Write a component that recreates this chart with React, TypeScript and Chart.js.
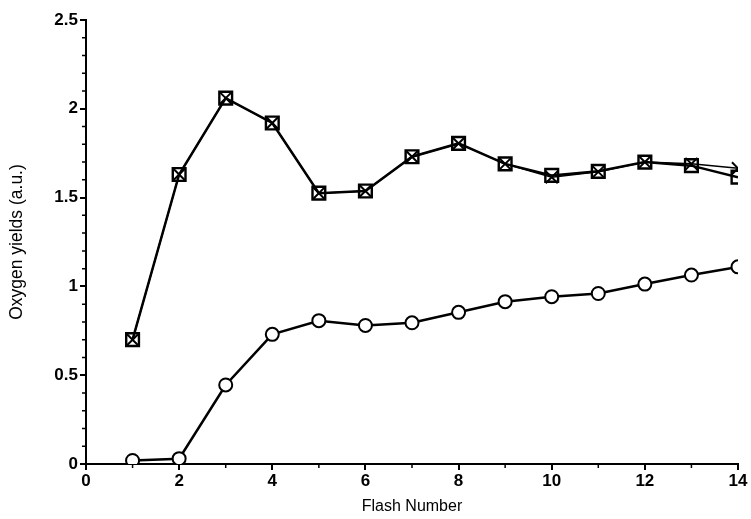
import React, { useEffect, useRef } from "react";
import { Chart, registerables } from "chart.js";

Chart.register(...registerables);

const flashNumbers = [1, 2, 3, 4, 5, 6, 7, 8, 9, 10, 11, 12, 13, 14];
const squareYields = [0.7, 1.63, 2.06, 1.92, 1.525, 1.537, 1.73, 1.805, 1.69, 1.625, 1.648, 1.7, 1.68, 1.615];
const crossYields = [0.7, 1.63, 2.06, 1.92, 1.525, 1.537, 1.73, 1.805, 1.69, 1.615, 1.645, 1.7, 1.69, 1.665];
const circleYields = [0.02, 0.03, 0.445, 0.73, 0.807, 0.78, 0.795, 0.854, 0.914, 0.942, 0.96, 1.013, 1.064, 1.11];
const xTicks = [0, 2, 4, 6, 8, 10, 12, 14];
const yTicks = [0, 0.5, 1, 1.5, 2, 2.5];
const xMinorTicks = [1, 3, 5, 7, 9, 11, 13];
const yMinorTicks = [0.1, 0.2, 0.3, 0.4, 0.6, 0.7, 0.8, 0.9, 1.1, 1.2, 1.3, 1.4, 1.6, 1.7, 1.8, 1.9, 2.1, 2.2, 2.3, 2.4];

const FONT = "'Liberation Sans', Arial, sans-serif";

const minorTickPlugin = {
  id: "minorTicks",
  afterDraw(chart: any) {
    const ctx = chart.ctx;
    const xs = chart.scales.x;
    const ys = chart.scales.y;
    ctx.save();
    ctx.strokeStyle = "#000";
    ctx.lineWidth = 1.5;
    ctx.beginPath();
    for (const v of xMinorTicks) {
      const px = xs.getPixelForValue(v);
      ctx.moveTo(px, xs.top);
      ctx.lineTo(px, xs.top + 4);
    }
    for (const v of yMinorTicks) {
      const py = ys.getPixelForValue(v);
      ctx.moveTo(ys.right, py);
      ctx.lineTo(ys.right - 4, py);
    }
    ctx.stroke();
    ctx.restore();
  },
};

export default function App() {
  const ref = useRef<HTMLCanvasElement | null>(null);
  useEffect(() => {
    document.body.style.margin = "0";
    const canvas = ref.current!;
    const mk = (vals: number[]) => flashNumbers.map((x, i) => ({ x, y: vals[i] }));
    const chart = new Chart(canvas, {
      type: "line",
      data: {
        datasets: [
          {
            label: "circles",
            data: mk(circleYields),
            borderColor: "#000",
            borderWidth: 2.5,
            pointStyle: "circle",
            pointRadius: 6.5,
            pointBorderWidth: 2,
            pointBackgroundColor: "#fff",
            pointBorderColor: "#000",
          },
          {
            label: "crosses",
            data: mk(crossYields),
            borderColor: "#000",
            borderWidth: 1.5,
            pointStyle: "crossRot",
            pointRadius: 8.5,
            pointBorderWidth: 2,
            pointBorderColor: "#000",
          },
          {
            label: "squares",
            data: mk(squareYields),
            borderColor: "#000",
            borderWidth: 2.5,
            pointStyle: "rect",
            pointRadius: 9,
            pointBorderWidth: 2.4,
            pointBackgroundColor: "rgba(255,255,255,0)",
            pointBorderColor: "#000",
          },
        ],
      },
      options: {
        animation: false,
        responsive: false,
        maintainAspectRatio: false,
        layout: { padding: { top: 20, right: 13, left: 0, bottom: 0 } },
        plugins: { legend: { display: false }, tooltip: { enabled: false } },
        scales: {
          x: {
            type: "linear",
            min: 0,
            max: 14,
            afterBuildTicks: (s: any) => {
              s.ticks = xTicks.map((v) => ({ value: v }));
            },
            afterFit: (s: any) => {
              s.height = 55;
            },
            border: { color: "#000", width: 2 },
            grid: { drawOnChartArea: false, drawTicks: true, tickLength: 6, color: "#000", lineWidth: 2 },
            ticks: {
              color: "#000",
              font: { family: FONT, size: 17, weight: "bold" },
              padding: 1,
              maxRotation: 0,
              callback: (v: any) => String(v),
            },
            title: { display: true, text: "Flash Number", color: "#000", font: { family: FONT, size: 16 }, padding: { top: 0, bottom: 3 } },
          },
          y: {
            type: "linear",
            min: 0,
            max: 2.5,
            afterBuildTicks: (s: any) => {
              s.ticks = yTicks.map((v) => ({ value: v }));
            },
            afterFit: (s: any) => {
              s.width = 86;
            },
            border: { color: "#000", width: 2 },
            grid: { drawOnChartArea: false, drawTicks: true, tickLength: 6, color: "#000", lineWidth: 2 },
            ticks: {
              color: "#000",
              font: { family: FONT, size: 17, weight: "bold" },
              padding: 2,
              callback: (v: any) => String(v),
            },
            title: { display: true, text: "Oxygen yields (a.u.)", color: "#000", font: { family: FONT, size: 17.5 }, padding: { top: 7, bottom: 6 } },
          },
        },
      },
      plugins: [minorTickPlugin],
    });
    return () => chart.destroy();
  }, []);
  return <canvas ref={ref} width={751} height={519} style={{ display: "block", width: 751, height: 519 }} />;
}
